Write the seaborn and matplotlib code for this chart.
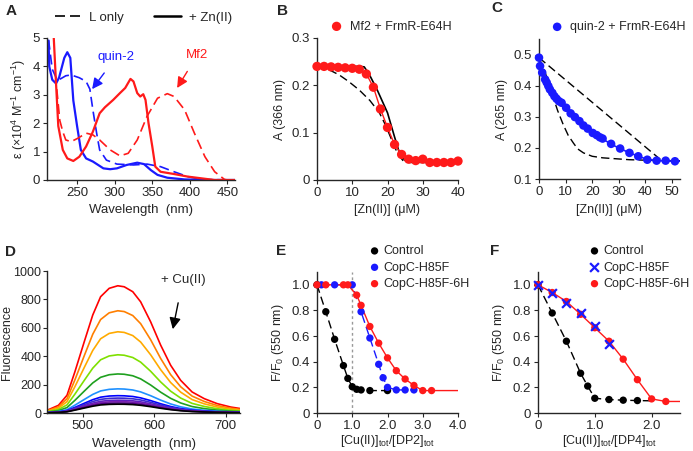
import numpy as np
import pandas as pd
import seaborn as sns
import matplotlib.pyplot as plt
from matplotlib.lines import Line2D

sns.set_style("ticks")
plt.rcParams['font.family'] = ['Liberation Sans', 'DejaVu Sans']
plt.rcParams['mathtext.fontset'] = 'custom'
plt.rcParams['mathtext.rm'] = 'Liberation Sans'
plt.rcParams['mathtext.default'] = 'regular'
plt.rcParams['font.size'] = 9
plt.rcParams['axes.linewidth'] = 1.0
plt.rcParams['xtick.major.size'] = 3
plt.rcParams['ytick.major.size'] = 3

# ---- panel A: absorption spectra ----
quin2_zn_nm = [212, 213, 217, 222, 226, 233, 237, 241, 245, 250, 255, 262, 271, 278, 285, 294, 303, 316, 330, 339, 348, 357, 370, 393, 424, 460]
quin2_zn_eps = [4.9, 4.0, 3.53, 3.4, 3.6, 4.3, 4.5, 4.3, 2.8, 1.9, 1.06, 0.76, 0.65, 0.53, 0.41, 0.38, 0.41, 0.53, 0.61, 0.56, 0.35, 0.18, 0.08, 0.02, 0.0, 0.0]
quin2_nm = [212, 217, 224, 235, 242, 253, 262, 267, 271, 276, 280, 289, 303, 325, 343, 361, 379, 397, 415, 460]
quin2_eps = [4.94, 3.9, 3.5, 3.67, 3.7, 3.6, 3.47, 3.2, 2.47, 1.65, 1.06, 0.7, 0.56, 0.53, 0.56, 0.47, 0.29, 0.12, 0.02, 0.0]
mf2_zn_nm = [219, 222, 225, 231, 237, 245, 253, 262, 271, 280, 287, 298, 307, 314, 321, 325, 330, 334, 338, 341, 345, 350, 354, 361, 379, 397, 415, 433, 460]
mf2_zn_eps = [5.0, 3.4, 1.9, 1.06, 0.76, 0.67, 0.82, 1.18, 1.7, 2.35, 2.56, 2.82, 3.06, 3.24, 3.56, 3.47, 3.06, 2.94, 3.02, 2.82, 2.0, 1.18, 0.47, 0.29, 0.21, 0.12, 0.06, 0.0, 0.0]
mf2_nm = [223, 227, 231, 235, 242, 251, 262, 271, 280, 294, 307, 318, 330, 343, 357, 370, 379, 393, 406, 420, 433, 446, 450]
mf2_eps = [3.2, 2.1, 1.7, 1.41, 1.35, 1.47, 1.65, 1.59, 1.41, 1.06, 0.85, 0.94, 1.41, 2.24, 2.88, 3.04, 2.94, 2.47, 1.65, 0.82, 0.29, 0.02, 0.0]

# ---- panel B: Mf2 + FrmR-E64H titration ----
b_zn = [0, 2, 4, 6, 8, 10, 12, 14, 16, 18, 20, 22, 24, 26, 28, 30, 32, 34, 36, 38, 40]
b_abs = [0.240, 0.240, 0.239, 0.238, 0.237, 0.236, 0.234, 0.224, 0.196, 0.150, 0.111, 0.075, 0.054, 0.044, 0.041, 0.044, 0.037, 0.037, 0.037, 0.037, 0.040]
b_fit_x = [0, 12, 13.4, 14.9, 17.1, 20, 22, 23.4, 24.9, 26, 40]
b_fit_y = [0.240, 0.240, 0.239, 0.222, 0.190, 0.142, 0.091, 0.057, 0.042, 0.038, 0.037]
b_dash_x = [0, 3.4, 6.3, 9, 12, 15, 17.7, 19.5, 21, 22.9, 24.5, 26, 40]
b_dash_y = [0.240, 0.233, 0.222, 0.208, 0.190, 0.168, 0.142, 0.115, 0.088, 0.055, 0.040, 0.037, 0.037]

# ---- panel C: quin-2 + FrmR-E64H titration ----
c_zn = [0, 0.4, 1.2, 2.3, 2.9, 3.5, 4.1, 5.0, 5.8, 6.6, 7.5, 8.5, 10.2, 11.9, 13.5, 15.2, 16.7, 18.3, 20.2, 21.7, 22.9, 23.9, 27.1, 30.5, 34.0, 37.3, 40.7, 44.2, 47.6, 51.1]
c_abs = [0.490, 0.463, 0.442, 0.420, 0.410, 0.399, 0.388, 0.377, 0.366, 0.358, 0.350, 0.345, 0.329, 0.311, 0.299, 0.286, 0.272, 0.262, 0.248, 0.241, 0.234, 0.230, 0.213, 0.198, 0.184, 0.173, 0.162, 0.159, 0.159, 0.157]
c_fit_x = [0, 2, 5, 8.5, 12, 16, 20, 24, 28, 34, 40, 44, 53]
c_fit_y = [0.490, 0.425, 0.377, 0.345, 0.315, 0.28, 0.252, 0.228, 0.208, 0.184, 0.165, 0.159, 0.157]
c_up_x = [0, 46, 53]
c_up_y = [0.490, 0.160, 0.158]
c_low_x = [0, 2, 4, 5.4, 7, 9.1, 11, 12.9, 14.5, 16.7, 20, 24, 34, 46, 53]
c_low_y = [0.490, 0.45, 0.40, 0.361, 0.32, 0.275, 0.24, 0.216, 0.197, 0.184, 0.173, 0.168, 0.162, 0.159, 0.158]

# ---- panel D: fluorescence quenching ----
d_nm = [450, 466, 478, 489, 502, 514, 525, 537, 549, 558, 570, 581, 595, 609, 623, 637, 653, 670, 688, 707, 721]
d_top = [19, 54, 125, 290, 500, 690, 819, 878, 896, 889, 854, 783, 642, 478, 336, 230, 148, 101, 66, 42, 31]
d_peaks = [896, 720, 572, 410, 275, 170, 122, 105, 90, 80, 70, 62]
d_colors = ['#ff0000', '#ff7f00', '#ffaa00', '#7fe000', '#1fa01f', '#1e90ff',
            '#0000ff', '#3a2bd0', '#5a1fc0', '#7a1fb0', '#4b0082', '#000000']

# ---- panel E: DP2 ----
e_ctrl_x = [0, 0.25, 0.5, 0.75, 0.875, 1.0, 1.125, 1.25, 1.5, 2.0]
e_ctrl_y = [1.0, 0.79, 0.575, 0.37, 0.27, 0.205, 0.185, 0.18, 0.175, 0.175]
e_h85f_x = [0.125, 0.5, 1.0, 1.25, 1.5, 1.75, 1.875, 2.0, 2.25, 2.5, 2.75]
e_h85f_y = [1.0, 1.0, 1.0, 0.79, 0.585, 0.38, 0.275, 0.2, 0.18, 0.18, 0.18]
e_6h_x = [0, 0.25, 0.75, 0.875, 1.125, 1.25, 1.5, 1.75, 2.0, 2.25, 2.5, 2.75, 3.0, 3.25, 4.0]
e_6h_y = [1.0, 1.0, 1.0, 1.0, 0.92, 0.84, 0.675, 0.545, 0.43, 0.33, 0.265, 0.215, 0.175, 0.175, 0.175]

# ---- panel F: DP4 ----
f_ctrl_x = [0, 0.25, 0.5, 0.75, 0.875, 1.0, 1.25, 1.5, 1.75, 2.0]
f_ctrl_y = [1.0, 0.78, 0.56, 0.31, 0.21, 0.115, 0.105, 0.1, 0.097, 0.095]
f_h85f_x = [0, 0.25, 0.5, 0.75, 1.0, 1.25]
f_h85f_y = [1.0, 0.94, 0.86, 0.78, 0.68, 0.54]
f_6h_x = [0, 0.25, 0.5, 0.75, 1.0, 1.25, 1.5, 1.75, 2.0, 2.25, 2.5]
f_6h_y = [1.0, 0.94, 0.87, 0.77, 0.665, 0.56, 0.42, 0.26, 0.11, 0.09, 0.09]

RED = '#ff1a1a'
BLUE = '#1a1aff'
DASH = (0, (6, 3))

W, H = 693, 451
fig = plt.figure(figsize=(W / 100, H / 100), dpi=100)


def box(l, t, r, b):
    return [l / W, 1 - b / H, (r - l) / W, (b - t) / H]


axA = fig.add_axes(box(47, 38, 235, 180))
axB = fig.add_axes(box(317, 38, 458, 180))
axC = fig.add_axes(box(539, 39, 680, 179))
axD = fig.add_axes(box(47, 271, 240, 413))
axE = fig.add_axes(box(317, 272, 458, 413))
axF = fig.add_axes(box(538, 272, 680, 413))

# A
sns.lineplot(x=quin2_zn_nm, y=quin2_zn_eps, color=BLUE, lw=1.6, ax=axA, sort=False, estimator=None)
sns.lineplot(x=quin2_nm, y=quin2_eps, color=BLUE, lw=1.2, ax=axA, sort=False, estimator=None, linestyle=DASH)
sns.lineplot(x=mf2_zn_nm, y=mf2_zn_eps, color=RED, lw=1.6, ax=axA, sort=False, estimator=None)
sns.lineplot(x=mf2_nm, y=mf2_eps, color=RED, lw=1.2, ax=axA, sort=False, estimator=None, linestyle=DASH)
axA.set_xlim(210, 460)
axA.set_ylim(0, 5)
axA.set_xticks([250, 300, 350, 400, 450])
axA.set_yticks([0, 1, 2, 3, 4, 5])
axA.set_xlabel('Wavelength  (nm)', fontsize=9.5)
axA.set_ylabel('ε (×10$^4$ M$^{-1}$ cm$^{-1}$)', labelpad=3)
axA.annotate('quin-2', xy=(270, 3.2), xytext=(302, 4.33), color=BLUE, ha='center', va='center', fontsize=9.5,
             arrowprops=dict(arrowstyle='-|>', color=BLUE, lw=1, mutation_scale=16, shrinkA=6, shrinkB=0))
axA.annotate('Mf2', xy=(383, 3.24), xytext=(410, 4.4), color=RED, ha='center', va='center', fontsize=9.5,
             arrowprops=dict(arrowstyle='-|>', color=RED, lw=1, mutation_scale=16, shrinkA=6, shrinkB=0))
handles = [Line2D([], [], color='k', lw=1.2, linestyle=DASH), Line2D([], [], color='k', lw=1.8)]
fig.legend(handles, ['L only', '+ Zn(II)'], loc='center left', bbox_to_anchor=(55 / W, 1 - 18 / H),
           ncol=2, frameon=False, handlelength=2.0, columnspacing=2.3, handletextpad=0.6,
           borderaxespad=0, borderpad=0, fontsize=9.5)

# B
sns.lineplot(x=b_dash_x, y=b_dash_y, color='k', lw=1, ax=axB, sort=False, estimator=None, linestyle=DASH)
sns.lineplot(x=b_fit_x, y=b_fit_y, color='k', lw=1.2, ax=axB, sort=False, estimator=None)
sns.lineplot(x=b_zn, y=b_abs, color=RED, lw=1, ax=axB, sort=False, estimator=None)
sns.scatterplot(x=b_zn, y=b_abs, color=RED, s=45, ax=axB, edgecolor='none', clip_on=False,
                label='Mf2 + FrmR-E64H', zorder=5)
axB.set_xlim(0, 40)
axB.set_ylim(0, 0.3)
axB.set_xticks([0, 10, 20, 30, 40])
axB.set_yticks([0, 0.1, 0.2, 0.3])
axB.set_yticklabels(['0', '0.1', '0.2', '0.3'])
axB.set_xlabel('[Zn(II)] (μM)')
axB.set_ylabel('A (366 nm)')
axB.legend(loc='center left', bbox_to_anchor=(0.05, 1.08), frameon=False, handletextpad=0.05,
           borderaxespad=0, borderpad=0, fontsize=9)

# C
sns.lineplot(x=c_up_x, y=c_up_y, color='k', lw=1, ax=axC, sort=False, estimator=None, linestyle=DASH)
sns.lineplot(x=c_low_x, y=c_low_y, color='k', lw=1, ax=axC, sort=False, estimator=None, linestyle=DASH)
sns.lineplot(x=c_fit_x, y=c_fit_y, color=BLUE, lw=1.2, ax=axC, sort=False, estimator=None)
sns.scatterplot(x=c_zn, y=c_abs, color=BLUE, s=38, ax=axC, edgecolor='none', clip_on=False,
                label='quin-2 + FrmR-E64H', zorder=5)
axC.set_xlim(0, 53)
axC.set_ylim(0.1, 0.55)
axC.set_xticks([0, 10, 20, 30, 40, 50])
axC.set_yticks([0.1, 0.2, 0.3, 0.4, 0.5])
axC.set_xlabel('[Zn(II)] (μM)')
axC.set_ylabel('A (265 nm)')
axC.legend(loc='center left', bbox_to_anchor=(0.04, 1.085), frameon=False, handletextpad=0.05,
           borderaxespad=0, borderpad=0, fontsize=9)

# D
top = np.array(d_top, dtype=float)
rows = []
for i, pk in enumerate(d_peaks):
    for nm, v in zip(d_nm, top / top.max() * pk):
        rows.append({'nm': nm, 'F': v, 'curve': i})
dfD = pd.DataFrame(rows)
sns.lineplot(data=dfD, x='nm', y='F', hue='curve', palette=d_colors, lw=1.2, ax=axD,
             legend=False, estimator=None)
axD.set_xlim(450, 720)
axD.set_ylim(0, 1000)
axD.set_xticks([500, 600, 700])
axD.set_yticks([0, 200, 400, 600, 800, 1000])
axD.set_xlabel('Wavelength  (nm)', fontsize=9.5)
axD.annotate('+ Cu(II)', xy=(626, 590), xytext=(640, 937), ha='center', va='center', fontsize=9.5,
             arrowprops=dict(arrowstyle='-|>', color='k', lw=1, mutation_scale=17, shrinkA=10, shrinkB=0))


def fmt_axis(ax, xmax, xticks):
    ax.set_xlim(0, xmax)
    ax.set_ylim(0, 1.1)
    ax.set_xticks(xticks)
    ax.set_xticklabels(['0'] + ['%.1f' % t for t in xticks[1:]])
    ax.set_yticks([0, 0.2, 0.4, 0.6, 0.8, 1.0])
    ax.set_yticklabels(['0', '0.2', '0.4', '0.6', '0.8', '1.0'])
    ax.set_ylabel('F/F$_0$ (550 nm)')


# E
axE.axvline(1.0, color='#999999', lw=1, linestyle=(0, (2, 2)), zorder=0)
sns.lineplot(x=e_ctrl_x, y=e_ctrl_y, color='k', lw=1, ax=axE, sort=False, estimator=None, linestyle=DASH)
sns.lineplot(x=e_h85f_x, y=e_h85f_y, color=BLUE, lw=1, ax=axE, sort=False, estimator=None, linestyle=DASH)
sns.lineplot(x=e_6h_x, y=e_6h_y, color=RED, lw=1, ax=axE, sort=False, estimator=None)
sns.scatterplot(x=e_ctrl_x, y=e_ctrl_y, color='k', s=28, ax=axE, edgecolor='none', clip_on=False, label='Control', zorder=5)
sns.scatterplot(x=e_h85f_x, y=e_h85f_y, color=BLUE, s=28, ax=axE, edgecolor='none', clip_on=False, label='CopC-H85F', zorder=5)
sns.scatterplot(x=e_6h_x[:-1], y=e_6h_y[:-1], color=RED, s=28, ax=axE, edgecolor='none', clip_on=False, label='CopC-H85F-6H', zorder=6)
fmt_axis(axE, 4.0, [0, 1.0, 2.0, 3.0, 4.0])
axE.set_xlabel('[Cu(II)]$_{tot}$/[DP2]$_{tot}$', labelpad=1)
axE.legend(loc='upper left', bbox_to_anchor=(0.355, 1.19), frameon=False, handletextpad=0.1,
           handlelength=1.2, labelspacing=0.35, borderaxespad=0, borderpad=0, fontsize=9)

# F
sns.lineplot(x=f_ctrl_x, y=f_ctrl_y, color='k', lw=1, ax=axF, sort=False, estimator=None, linestyle=DASH)
sns.lineplot(x=f_6h_x, y=f_6h_y, color=RED, lw=1, ax=axF, sort=False, estimator=None)
sns.scatterplot(x=f_ctrl_x[:-1], y=f_ctrl_y[:-1], color='k', s=28, ax=axF, edgecolor='none', clip_on=False, label='Control', zorder=5)
sns.scatterplot(x=f_h85f_x, y=f_h85f_y, color=BLUE, s=40, marker='x', linewidth=1.6, ax=axF, clip_on=False, label='CopC-H85F', zorder=7)
sns.scatterplot(x=f_6h_x[:-1], y=f_6h_y[:-1], color=RED, s=28, ax=axF, edgecolor='none', clip_on=False, label='CopC-H85F-6H', zorder=6)
fmt_axis(axF, 2.5, [0, 1.0, 2.0])
axF.set_xlabel('[Cu(II)]$_{tot}$/[DP4]$_{tot}$', labelpad=1)
axF.legend(loc='upper left', bbox_to_anchor=(0.345, 1.19), frameon=False, handletextpad=0.1,
           handlelength=1.2, labelspacing=0.35, borderaxespad=0, borderpad=0, fontsize=9)

for ax in [axA, axB, axC, axD, axE, axF]:
    sns.despine(ax=ax)
    ax.tick_params(labelsize=9.5, pad=2)

axD.tick_params(axis='y', labelsize=9, pad=1)
axD.set_ylabel('Fluorescence', labelpad=0, fontsize=9)

for letter, (px, py) in zip('ABCDEF', [(11, 11), (282, 11), (497, 8), (11, 252), (281, 251), (495, 251)]):
    fig.text(px / W, 1 - py / H, letter, fontsize=11, fontweight='bold', ha='center', va='center')

fig.savefig('out.png', dpi=100)
